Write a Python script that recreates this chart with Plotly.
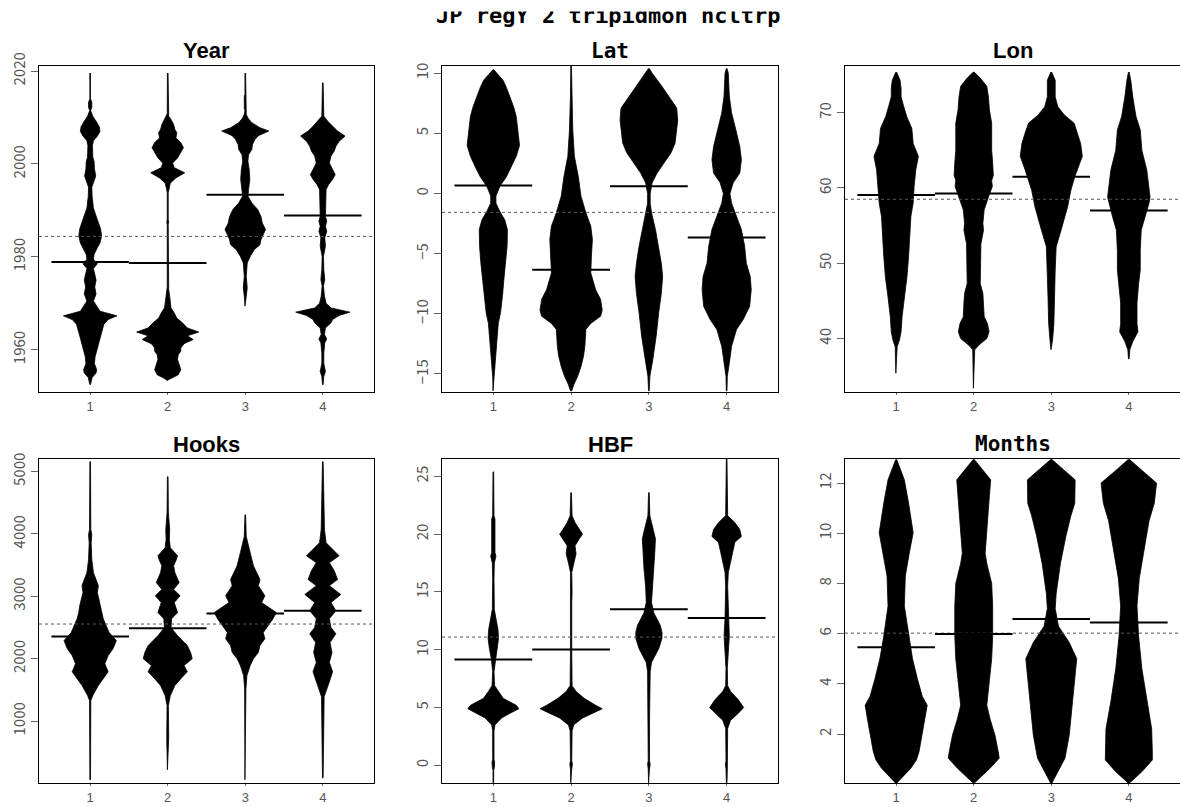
import plotly.graph_objects as go

# ---------------- data ----------------
categories = [1, 2, 3, 4]
x_ticklabels = ["1", "2", "3", "4"]
main_title = "JP regY 2 tripidmon hcltrp"
panel_titles = ["Year", "Lat", "Lon", "Hooks", "HBF", "Months"]

# Bean density profiles: (value, relative density) pairs, one list per group
year_beans = [
    [(2019.6, 1), (2014, 1), (2013.3, 5), (2012.2, 5), (2011.5, 1.5), (2010.3, 8), (2009, 20), (2008, 28),
     (2007, 30), (2006, 22), (2005, 10), (2004, 7), (2001.5, 8), (2000.5, 12), (1999, 13), (1997.4, 17),
     (1996, 10), (1995, 5), (1993, 6), (1990.5, 10), (1989, 17), (1987.5, 25), (1986, 32), (1984.5, 35),
     (1983, 30), (1982, 22), (1980.5, 12), (1979.5, 10), (1978.5, 22), (1977.5, 10), (1976, 14), (1975, 18),
     (1973.5, 14), (1972, 18), (1970.5, 10), (1969.5, 18), (1968.3, 30), (1967.3, 82), (1966.5, 55),
     (1965.5, 42), (1964.5, 38), (1963, 32), (1961.5, 25), (1960, 20), (1958.5, 15), (1957, 13),
     (1955.7, 20), (1955, 18), (1954, 6), (1952.5, 1)],
    [(2019.6, 1), (2010.8, 1.5), (2010.3, 3), (2009.6, 10), (2008.5, 18), (2007.4, 22), (2006.7, 28),
     (2005.6, 25), (2004.6, 40), (2003.5, 48), (2002.4, 40), (2001.3, 30), (2000.2, 15), (1999.2, 20),
     (1998.1, 52), (1997, 25), (1995.9, 8), (1994.8, 4), (1993.8, 1.5), (1988, 1.5), (1987.5, 3), (1987, 1.5),
     (1973.5, 1.5), (1972.9, 3), (1971.5, 6), (1970, 8), (1969, 10), (1967.9, 20), (1966.8, 28), (1965.8, 45),
     (1964.7, 60), (1963.8, 95), (1963, 60), (1962.2, 78), (1961.3, 50), (1960.4, 40), (1959.7, 40),
     (1958.9, 32), (1957.9, 30), (1956.8, 35), (1955.7, 40), (1954.6, 32), (1953.9, 12), (1953.4, 2)],
    [(2019.6, 1), (2015, 1), (2014.5, 3), (2012, 3), (2011.5, 1), (2010.7, 3), (2009.9, 8), (2008.9, 20),
     (2007.8, 45), (2007.1, 72), (2006.1, 40), (2005.3, 30), (2004.2, 22), (2003.1, 20), (2002, 10),
     (2000.6, 8), (1998.8, 12), (1996.7, 14), (1994.5, 10), (1993.1, 8), (1991.6, 20), (1990.2, 38),
     (1988.7, 48), (1987.3, 52), (1985.9, 62), (1984.8, 55), (1983.7, 48), (1982.6, 45), (1981.6, 28),
     (1980.1, 15), (1978.7, 6), (1975.8, 3), (1973.3, 6), (1971.5, 3), (1969.4, 1)],
    [(2017.5, 1), (2010.3, 3), (2009.2, 15), (2008.1, 30), (2007.1, 45), (2006, 68), (2004.9, 50),
     (2003.8, 40), (2002.8, 35), (2001.7, 25), (2000.2, 20), (1998.8, 30), (1997.7, 38), (1996.7, 30),
     (1995.6, 18), (1994.5, 10), (1991.6, 10), (1988.7, 8), (1987.7, 12), (1986.6, 8), (1985.5, 12),
     (1984.1, 6), (1982.3, 8), (1980.1, 2), (1977.3, 3), (1975.1, 6), (1973.7, 2), (1971.5, 5), (1970, 10),
     (1969, 25), (1968.1, 83), (1967.4, 50), (1966.5, 30), (1965.8, 25), (1964.7, 8), (1963.3, 5),
     (1962.3, 12), (1961.5, 6), (1959.3, 3), (1957.1, 3), (1955.3, 8), (1954.3, 3), (1952.5, 1)],
]
year_means = [1978.9, 1978.7, 1993.35, 1988.9]
year_overall = 1984.4

lat_beans = [
    [(10.3, 1), (10, 10), (9.4, 30), (8.8, 40), (8.1, 50), (7.2, 62), (6.4, 70), (5.3, 75), (4, 80), (3.1, 70),
     (2.2, 55), (1.4, 40), (0.6, 20), (-0.2, 8), (-0.8, 8), (-1.5, 20), (-2.2, 35), (-3, 43), (-4.4, 42),
     (-5.8, 38), (-7.2, 32), (-8.5, 28), (-9.9, 22), (-10.8, 15), (-12.7, 10), (-14.1, 5), (-15.2, 2),
     (-16.4, 1)],
    [(10.6, 1), (8.1, 2), (5.3, 5), (3.1, 10), (1.4, 22), (-0.2, 30), (-1.6, 45), (-2.7, 60), (-3.8, 65),
     (-5.2, 62), (-6.6, 60), (-8, 75), (-8.8, 90), (-9.7, 95), (-10.2, 90), (-10.8, 60), (-11.3, 45),
     (-12.7, 42), (-13.5, 38), (-14.4, 30), (-15.2, 20), (-15.9, 8), (-16.4, 2)],
    [(10.4, 1), (10, 10), (8.9, 40), (8.1, 60), (7.1, 85), (6.1, 88), (5.3, 85), (4.2, 80), (3.4, 68),
     (2.5, 45), (1.7, 25), (0.9, 10), (0, 4), (-0.8, 4), (-1.6, 8), (-3, 20), (-4.4, 30), (-5.8, 38),
     (-6.9, 42), (-8.3, 38), (-9.9, 30), (-11.9, 22), (-13.8, 12), (-15.2, 3), (-16.4, 1)],
    [(10.4, 1), (10, 5), (8.1, 8), (6.7, 15), (5.3, 28), (3.9, 40), (2.8, 45), (1.7, 40), (0.9, 20), (0, 10),
     (-0.8, 15), (-1.9, 30), (-3, 45), (-4.4, 55), (-5.8, 60), (-6.9, 72), (-8, 75), (-9.4, 70), (-10.5, 50),
     (-11.3, 30), (-12.7, 15), (-14.1, 8), (-15.2, 2), (-16.4, 1)],
]
lat_means = [0.67, -6.33, 0.61, -3.65]
lat_overall = -1.57

lon_beans = [
    [(75.4, 1), (74.3, 12), (73.2, 15), (72.1, 15), (71, 22), (69.5, 32), (67.9, 48), (65.9, 52), (64.2, 68),
     (62.4, 60), (60.2, 55), (58, 52), (56.2, 45), (53.5, 42), (50.9, 38), (48.2, 33), (45.5, 25),
     (42.9, 18), (40.9, 15), (39.8, 10), (38.9, 3), (35.4, 1)],
    [(75.4, 1), (74.6, 20), (73.5, 40), (72.1, 45), (70.4, 48), (68.6, 55), (66.8, 55), (65, 55), (63.3, 58),
     (61.7, 60), (61, 55), (60.2, 57), (58.8, 45), (57.1, 32), (55.3, 28), (54.4, 30), (52.6, 22), (50, 20),
     (47.3, 20), (46, 28), (44.7, 30), (42.9, 32), (42, 42), (40.9, 47), (40, 40), (39.1, 15), (38.5, 3),
     (33.4, 1)],
    [(75.4, 1), (74.3, 12), (73.2, 12), (72.1, 12), (70.8, 20), (69.7, 40), (68.6, 70), (67.3, 80),
     (65.9, 90), (64.2, 95), (62.4, 80), (61.5, 72), (59.7, 60), (57.5, 50), (54.4, 30), (52.2, 15),
     (49.1, 12), (45.5, 10), (42, 8), (39.8, 4), (38.5, 1)],
    [(75.4, 1), (74.3, 6), (72.1, 12), (69.5, 22), (67.7, 35), (65, 40), (62.4, 55), (60.6, 60), (58.8, 65),
     (58, 62), (56.2, 50), (54.4, 38), (51.7, 35), (49.1, 35), (47.3, 30), (44.7, 25), (42, 25), (40.9, 28),
     (39.6, 12), (38.5, 3), (37.3, 1)],
]
lon_means = [59.06, 59.28, 61.5, 57.0]
lon_overall = 58.5

hooks_beans = [
    [(5160, 1), (4070, 2), (3990, 5), (3860, 3), (3590, 5), (3380, 10), (3270, 18), (3170, 25), (3060, 22),
     (2850, 32), (2740, 35), (2640, 40), (2420, 58), (2290, 80), (2160, 70), (2050, 55), (1920, 45),
     (1790, 55), (1680, 40), (1570, 25), (1410, 8), (1330, 2), (60, 1)],
    [(4920, 1), (4340, 2), (4070, 6), (3910, 5), (3780, 8), (3650, 30), (3570, 25), (3490, 18), (3380, 22),
     (3220, 35), (3110, 18), (3010, 38), (2900, 20), (2740, 30), (2640, 12), (2500, 10), (2370, 30),
     (2210, 60), (2100, 70), (2000, 75), (1890, 50), (1790, 60), (1680, 40), (1570, 22), (1410, 8),
     (1250, 2), (720, 3), (220, 1)],
    [(4310, 1), (3960, 3), (3700, 15), (3490, 25), (3270, 45), (3170, 40), (3010, 60), (2900, 50),
     (2740, 95), (2640, 85), (2530, 70), (2420, 55), (2320, 60), (2210, 45), (2100, 40), (2000, 25),
     (1890, 15), (1730, 5), (1520, 2), (60, 1)],
    [(5160, 1), (4070, 5), (3860, 10), (3650, 50), (3540, 20), (3410, 35), (3270, 45), (3170, 20),
     (3030, 55), (2900, 25), (2770, 40), (2640, 20), (2500, 25), (2400, 40), (2260, 22), (2100, 28),
     (1940, 20), (1790, 30), (1630, 20), (1520, 12), (1390, 4), (90, 1)],
]
hooks_means = [2355, 2487, 2726, 2769]
hooks_overall = 2556

hbf_beans = [
    [(25.4, 1), (21.6, 2), (21.3, 5), (18.4, 5), (18.1, 8), (17.5, 3), (16.1, 2), (13.5, 3), (12.7, 8),
     (11.8, 14), (11, 16), (10.1, 12), (9.2, 6), (8.1, 2), (6.9, 4), (6.4, 15), (5.8, 30), (5.2, 70),
     (4.9, 78), (4.5, 50), (4.1, 25), (3.5, 5), (3, 2), (0.5, 2), (0.3, 4), (-0.2, 3), (-0.4, 1), (-1.5, 1)],
    [(23.6, 1), (21.6, 3), (21, 12), (20.4, 25), (20, 35), (19.6, 25), (19, 12), (18.3, 15), (17.5, 8),
     (16.7, 2), (15, 3), (14.1, 2), (9.8, 2), (6.9, 3), (6.4, 15), (5.8, 40), (5.2, 75), (4.9, 95), (4.5, 65),
     (4.1, 35), (3.5, 8), (3, 3), (0.4, 2), (0.1, 4), (-0.3, 2), (-1.5, 1)],
    [(23.6, 1), (21.6, 3), (21, 8), (20.1, 16), (19.6, 20), (18.4, 18), (17, 15), (15.5, 10), (14.1, 8),
     (13.2, 15), (12.7, 25), (12.1, 35), (11.5, 40), (11, 40), (10.1, 30), (9.5, 18), (8.9, 8), (8.1, 4),
     (6.9, 3), (6.1, 4), (4.1, 2), (0.4, 2), (0.1, 4), (-0.3, 2), (-1.5, 1)],
    [(26.5, 1), (21.6, 3), (21, 25), (20.4, 40), (19.8, 45), (19.3, 25), (18.4, 18), (17.5, 12), (16.7, 5),
     (15.5, 3), (12.7, 5), (11.2, 8), (9.8, 5), (8.4, 2), (6.9, 3), (6.4, 12), (5.7, 35), (5, 52), (4.5, 35),
     (3.9, 12), (3.2, 3), (0.4, 2), (0.1, 4), (-0.3, 2), (-1.5, 1)],
]
hbf_means = [9.15, 10.03, 13.5, 12.76]
hbf_overall = 11.1

months_beans = [
    [(12.95, 1), (12.13, 25), (11.2, 38), (10.02, 52), (9.2, 40), (8.3, 28), (7.1, 25), (5.9, 38), (5, 50),
     (4.2, 65), (3.5, 80), (3.15, 95), (2.6, 88), (1.96, 78), (1.3, 70), (0.97, 62), (0.64, 45), (0.05, 2)],
    [(12.95, 1), (12.13, 52), (11.5, 48), (10.5, 42), (9.2, 35), (8.8, 40), (8, 55), (7.1, 58), (5.9, 58),
     (5, 55), (3.7, 45), (3.15, 40), (2.6, 50), (1.96, 65), (1.3, 75), (1.04, 78), (0.64, 50), (0.05, 2)],
    [(12.95, 1), (12.13, 73), (11.2, 72), (10.7, 60), (9.9, 45), (8.8, 28), (7.6, 15), (7, 12), (6.3, 22),
     (5.65, 55), (5, 78), (4.2, 72), (3.3, 65), (2.6, 60), (1.96, 55), (1.04, 42), (0.5, 20), (0.05, 2)],
    [(12.95, 1), (12.5, 40), (12, 85), (11.2, 78), (10.5, 62), (9.2, 45), (8.2, 32), (7.1, 25), (5.9, 30),
     (4.6, 40), (3.3, 55), (2.2, 70), (1.3, 72), (0.97, 72), (0.5, 40), (0.05, 2)],
]
months_means = [5.46, 5.99, 6.58, 6.45]
months_overall = 6.02

# y-axis tick values per panel
year_ticks = [1960, 1980, 2000, 2020]
lat_ticks = [-15, -10, -5, 0, 5, 10]
lon_ticks = [40, 50, 60, 70]
hooks_ticks = [1000, 2000, 3000, 4000, 5000]
hbf_ticks = [0, 5, 10, 15, 20, 25]
months_ticks = [2, 4, 6, 8, 10, 12]

# ---------------- layout ----------------
W, H = 1180, 807
X_RANGE = [0.34, 4.66]
HALF_MAX = 0.4        # widest bean spans 0.8 category units
MEAN_HALF = 0.5       # bean mean line half-length

col_px = [(39, 374), (442, 778), (845, 1180)]
row_px = [(66, 392), (459, 783)]

panels = [
    dict(beans=year_beans, means=year_means, overall=year_overall, yr=[1950.9, 2021.1], ticks=year_ticks,
         tfont="Liberation Sans"),
    dict(beans=lat_beans, means=lat_means, overall=lat_overall, yr=[-16.5, 10.6], ticks=lat_ticks,
         tfont="DejaVu Sans Mono"),
    dict(beans=lon_beans, means=lon_means, overall=lon_overall, yr=[32.9, 76.2], ticks=lon_ticks,
         tfont="Liberation Sans"),
    dict(beans=hooks_beans, means=hooks_means, overall=hooks_overall, yr=[7, 5202], ticks=hooks_ticks,
         tfont="Liberation Sans"),
    dict(beans=hbf_beans, means=hbf_means, overall=hbf_overall, yr=[-1.52, 26.5], ticks=hbf_ticks,
         tfont="Liberation Sans"),
    dict(beans=months_beans, means=months_means, overall=months_overall, yr=[0.05, 12.96], ticks=months_ticks,
         tfont="DejaVu Sans Mono"),
]

Y_TICK_FONT = dict(family="Noto Sans CJK JP, Liberation Sans, sans-serif", size=15, color="#555555")
X_TICK_FONT = dict(family="Liberation Sans, sans-serif", size=13, color="#555555")

fig = go.Figure()
annotations = []
layout_axes = {}

for k, p in enumerate(panels):
    r, c = divmod(k, 3)
    idx = "" if k == 0 else str(k + 1)
    xa, ya = "x" + idx, "y" + idx
    x0, x1 = col_px[c]
    y0, y1 = row_px[r]

    peak = max(d for bean in p["beans"] for _, d in bean)
    for cat, bean in zip(categories, p["beans"]):
        lv = [v for v, _ in bean]
        hw = [d / peak * HALF_MAX for _, d in bean]
        xs = [cat + w for w in hw] + [cat - w for w in reversed(hw)]
        ys = lv + list(reversed(lv))
        fig.add_trace(go.Scatter(x=xs, y=ys, mode="lines", fill="toself", fillcolor="black",
                                 line=dict(color="black", width=0.8), hoverinfo="skip",
                                 showlegend=False, xaxis=xa, yaxis=ya))
    fig.add_trace(go.Scatter(x=X_RANGE, y=[p["overall"]] * 2, mode="lines",
                             line=dict(color="#555555", width=1, dash="dot"),
                             showlegend=False, xaxis=xa, yaxis=ya))
    for cat, m in zip(categories, p["means"]):
        fig.add_trace(go.Scatter(x=[cat - MEAN_HALF, cat + MEAN_HALF], y=[m, m], mode="lines",
                                 line=dict(color="black", width=2), showlegend=False,
                                 xaxis=xa, yaxis=ya))

    # the right-hand column runs to the page edge, so its right frame side is not drawn
    right_edge = c < 2
    layout_axes["xaxis" + idx] = dict(
        domain=[x0 / W, min(x1 / W, 1.0)], range=X_RANGE, anchor=ya, automargin=False,
        tickvals=categories, ticktext=x_ticklabels, ticks="outside", ticklen=2, tickcolor="#666666",
        showline=True, linecolor="black", linewidth=1, mirror=True,
        showgrid=False, zeroline=False, tickfont=X_TICK_FONT)
    layout_axes["yaxis" + idx] = dict(
        domain=[1 - y1 / H, 1 - y0 / H], range=p["yr"], anchor=xa, automargin=False,
        tickvals=p["ticks"], ticks="outside", ticklen=7, tickcolor="#666666", tickangle=-90,
        showline=True, linecolor="black", linewidth=1, mirror=right_edge,
        showgrid=False, zeroline=False, tickfont=Y_TICK_FONT)

    annotations.append(dict(
        text="<b>%s</b>" % panel_titles[k], x=(x0 + x1) / 2 / W, y=1 - (y0 - 15) / H,
        xref="paper", yref="paper", xanchor="center", yanchor="middle", showarrow=False,
        font=dict(family=p["tfont"], size=22 if p["tfont"] != "DejaVu Sans Mono" else 21, color="black")))

annotations.append(dict(
    text="<b>%s</b>" % main_title, x=608 / W, y=1 - 16 / H, xref="paper", yref="paper",
    xanchor="center", yanchor="middle", showarrow=False,
    font=dict(family="DejaVu Sans Mono", size=22, color="black")))
# blank band along the top edge of the page
annotations.append(dict(
    text=" ", x=0, y=1, xref="paper", yref="paper", xanchor="left", yanchor="top",
    width=W, height=10, borderpad=0, bgcolor="white", showarrow=False))

fig.update_layout(
    width=W, height=H, margin=dict(l=0, r=0, t=0, b=0, autoexpand=False),
    paper_bgcolor="white", plot_bgcolor="white",
    annotations=annotations, **layout_axes)

fig.write_html("out.html")
